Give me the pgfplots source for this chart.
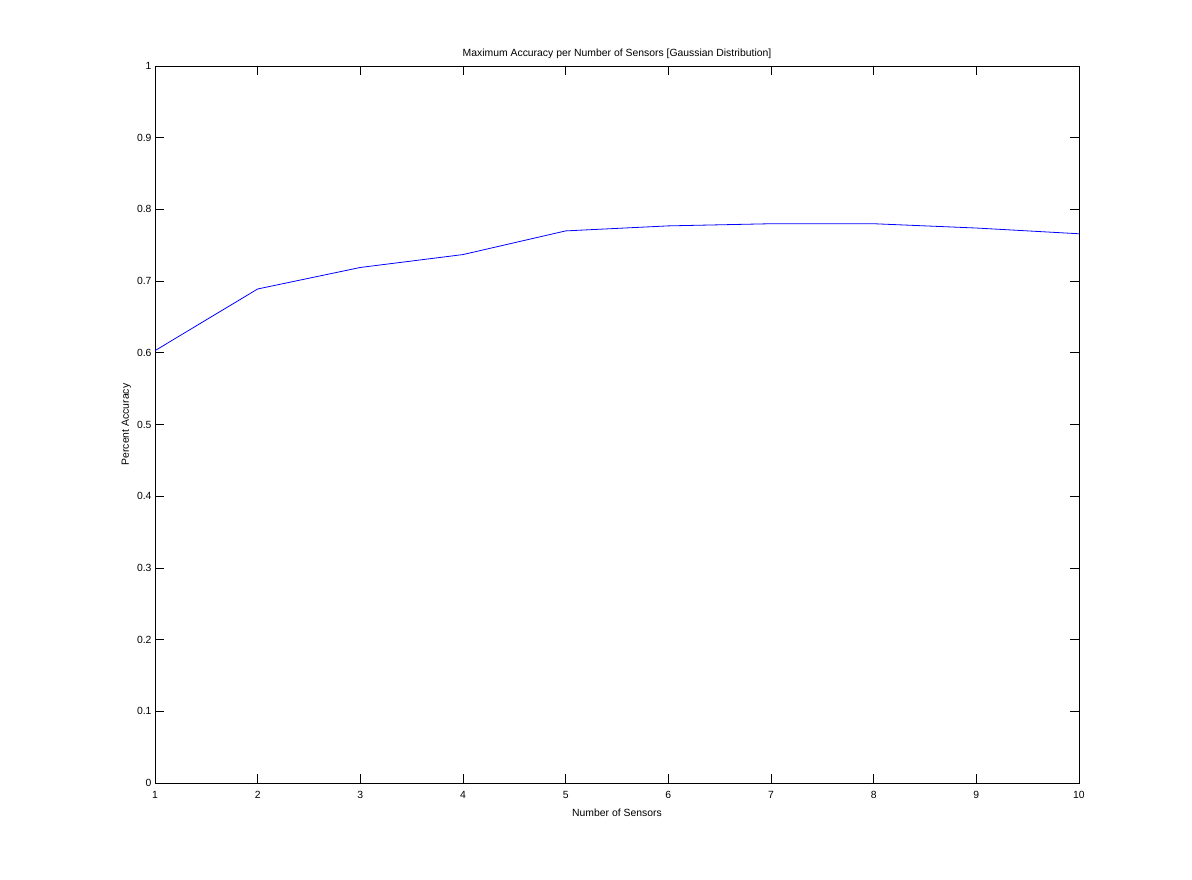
\documentclass[border=0pt]{standalone}
\usepackage{fontspec}
\setmainfont{Liberation Sans}
\usepackage{pgfplots}
\pgfplotsset{compat=1.18}
\begin{document}
\begin{tikzpicture}
\path[use as bounding box, fill=white] (0,0) rectangle (1192pt,880pt);
\begin{axis}[
  at={(155pt,97pt)}, anchor=south west,
  scale only axis, width=924pt, height=717pt,
  xmin=1, xmax=10, ymin=0, ymax=1,
  xtick={1,...,10},
  ytick={0,0.1,...,1},
  yticklabels={0,0.1,0.2,0.3,0.4,0.5,0.6,0.7,0.8,0.9,1},
  tick align=inside,
  major tick length=9pt,
  axis line style={line width=0.8pt},
  every tick/.style={black, line width=0.6pt},
  /pgf/number format/assume math mode=true,
  tick label style={font=\fontsize{10.4}{12}\selectfont},
  label style={font=\fontsize{10.4}{12}\selectfont},
  title style={font=\fontsize{10.4}{12}\selectfont, yshift=-2pt},
  title={Maximum Accuracy per Number of Sensors [Gaussian Distribution]},
  xlabel={Number of Sensors},
  ylabel={Percent Accuracy},
  xlabel style={yshift=-3pt},
  ylabel style={yshift=-1pt},
  xticklabel style={yshift=-5pt},
]
\addplot[blue, line width=0.8pt] coordinates {
(1,0.603) (2,0.689) (3,0.719) (4,0.737) (5,0.770) (6,0.777) (7,0.780) (8,0.780) (9,0.774) (10,0.766)
};
\end{axis}
\end{tikzpicture}
\end{document}
